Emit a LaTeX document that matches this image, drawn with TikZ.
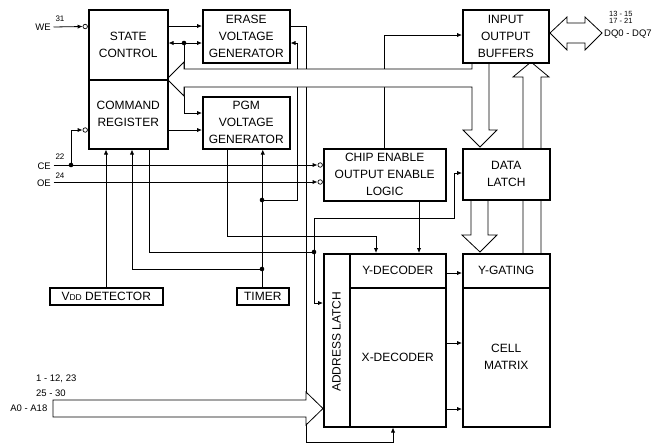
\documentclass[tikz,border=0pt]{standalone}
\usepackage{fontspec}
\setmainfont{Liberation Sans}
\usetikzlibrary{arrows.meta}
\pgfdeclarelayer{bg}
\pgfdeclarelayer{mid}
\pgfsetlayers{bg,mid,main}
\begin{document}
\begin{tikzpicture}[x=1pt,y=-1pt,
  box/.style={draw, line width=1.5pt, fill=white, inner sep=0pt, align=center, font=\fontsize{12}{17}\selectfont, anchor=north west},
  ln/.style={line width=0.8pt},
  arr/.style={ln, -{Latex[length=5pt,width=4.2pt]}},
  bus/.style={draw, line width=0.8pt, fill=white},
  inv/.style={circle, draw, line width=0.7pt, fill=white, minimum size=4.5pt, inner sep=0pt},
  dot/.style={circle, fill, minimum size=4.6pt, inner sep=0pt},
  pin/.style={font=\fontsize{8}{9}\selectfont, inner sep=0pt},
  sig/.style={font=\fontsize{9.5}{11}\selectfont, inner sep=0pt},
]
\useasboundingbox (0,0) rectangle (654,445);

% ---- boxes ----
\node[box, minimum width=79pt, minimum height=70pt] (sc) at (88,9) {STATE\\CONTROL};
\node[box, minimum width=79pt, minimum height=69pt] (cr) at (88,79) {COMMAND\\REGISTER};
\node[box, minimum width=87pt, minimum height=53pt] (eg) at (202,9) {ERASE\\VOLTAGE\\GENERATOR};
\node[box, minimum width=87pt, minimum height=52pt] (pg) at (202,96) {PGM\\VOLTAGE\\GENERATOR};
\node[box, minimum width=86pt, minimum height=53pt] (io) at (462,9) {INPUT\\OUTPUT\\BUFFERS};
\node[box, minimum width=122pt, minimum height=52pt] (ce) at (323,148) {CHIP ENABLE\\OUTPUT ENABLE\\LOGIC};
\node[box, minimum width=87pt, minimum height=51pt] (dl) at (462,148) {DATA\\LATCH};
\node[box, minimum width=113pt, minimum height=17pt] (vdd) at (49,287) {V{\fontsize{8.5}{9}\selectfont DD} DETECTOR};
\node[box, minimum width=52pt, minimum height=17pt] (tm) at (236,287) {TIMER};
\node[box, minimum width=26pt, minimum height=173pt] (al) at (323,253) {};
\node[rotate=90, font=\fontsize{12}{14}\selectfont, inner sep=0pt] (alt) at (336.5,342) {ADDRESS LATCH};
\node[box, minimum width=96pt, minimum height=34pt] (yd) at (349,253) {Y-DECODER};
\node[box, minimum width=96pt, minimum height=139pt] (xd) at (349,287) {X-DECODER};
\node[box, minimum width=87pt, minimum height=34pt] (yg) at (462,253) {Y-GATING};
\node[box, minimum width=87pt, minimum height=139pt] (cm) at (462,287) {CELL\\MATRIX};

% ---- labels ----
\node[sig, anchor=east] (we) at (51,27) {WE};
\node[pin] (p31) at (60,19) {31};
\node[sig, anchor=east] (cel) at (51,166) {CE};
\node[pin] (p22) at (60,157) {22};
\node[sig, anchor=east] (oel) at (51,183) {OE};
\node[pin] (p24) at (60,175.5) {24};
\node[pin, font=\fontsize{7.5}{7}\selectfont, align=left, anchor=north west] (pdq) at (609,11) {13 - 15\\17 - 21};
\node[sig, anchor=west] (dq) at (604,34) {DQ0 - DQ7};
\node[sig, anchor=west] (pa1) at (36,379) {1 - 12, 23};
\node[sig, anchor=west] (pa2) at (36,393) {25 - 30};
\node[sig, anchor=east] (adr) at (47.5,408.5) {A0 - A18};

% ---- inverters and dots ----
\node[inv] (iwe) at (85.2,26.5) {};
\node[inv] (icr) at (85.2,130) {};
\node[inv] (ice) at (320.2,165) {};
\node[inv] (ioe) at (320.2,182) {};
\node[dot] (dce) at (71,165) {};
\node[dot] (d43) at (184,43) {};
\node[dot] (d200) at (262,200) {};
\node[dot] (d269) at (262,269) {};
\node[dot] (d252) at (314,252) {};

% ---- connectors ----
\begin{pgfonlayer}{bg}
\draw[arr] ([xshift=2.5pt]we.east) -- (iwe.west);
\draw[arr] ([xshift=2.5pt]cel.east|-dce) -- (ice.west);
\draw[arr] (dce.center) -- (dce.center |- icr) -- (icr.west);
\draw[arr] ([xshift=2.5pt]oel.east|-ioe) -- (ioe.west);
\draw[arr] (sc.east |- 0,26) -- (eg.west |- 0,26);
\draw[arr] (d43.center) -- (sc.east |- d43);
\draw[arr] (d43.center) -- (eg.west |- d43);
\draw[arr] (d43.center) -- (184,113) -- (pg.west |- 0,113);
\draw[arr] (cr.east |- 0,130) -- (pg.west |- 0,130);
\draw[arr] (eg.east |- 0,26) -- (306,26) -- (306,442) -- (393,442) -- (393,0 |- xd.south);
\draw[arr] (tm.north) -- (tm.north |- pg.south);
\draw[arr] (d200.center) -- (297,200) -- (297,43) -- (eg.east |- 0,43);
\draw[arr] (d269.center) -- (132,269) -- (132,0 |- cr.south);
\draw[arr] (106,0 |- vdd.north) -- (106,0 |- cr.south);
\draw[ln] (149,0 |- cr.south) -- (149,252) -- (d252.center);
\draw[arr] (d252.center) -- (314,303) -- (al.west |- 0,303);
\draw[arr] (d252.center) -- (314,218) -- (454,218) -- (454,173) -- (dl.west |- 0,173);
\draw[arr] (227,0 |- pg.south) -- (227,236) -- (376,236) -- (376,0 |- yd.north);
\draw[arr] (419,0 |- ce.south) -- (419,0 |- yd.north);
\draw[arr] (384,0 |- ce.north) -- (384,35) -- (io.west |- 0,35);
\draw[arr] (yd.east |- 0,273) -- (yg.west |- 0,273);
\draw[arr] (xd.east |- 0,343) -- (cm.west |- 0,343);
\draw[arr] (xd.east |- 0,409) -- (cm.west |- 0,409);
\end{pgfonlayer}

% ---- hollow bus arrows ----
\begin{pgfonlayer}{mid}
\draw[bus] (472,62) -- (472,69) -- (184,69) -- (184,62) -- (167,79) -- (184,96) -- (184,87) -- (472,87) -- (472,130) -- (463,130) -- (480,147) -- (497,130) -- (489,130) -- (489,62);
\draw[bus] (471,199) -- (471,235) -- (462,235) -- (480,252) -- (497,235) -- (488,235) -- (488,199);
\draw[bus] (523,253) -- (523,77) -- (513,77) -- (531,62) -- (549,77) -- (541,77) -- (541,253);
\draw[bus] (550,33) -- (567,17) -- (567,23) -- (585,23) -- (585,17) -- (602,33) -- (585,50) -- (585,43) -- (567,43) -- (567,50) -- cycle;
\draw[bus] (53,400) -- (306,400) -- (306,392) -- (323,408.5) -- (306,425) -- (306,417) -- (53,417) -- cycle;
\end{pgfonlayer}
\end{tikzpicture}
\end{document}
